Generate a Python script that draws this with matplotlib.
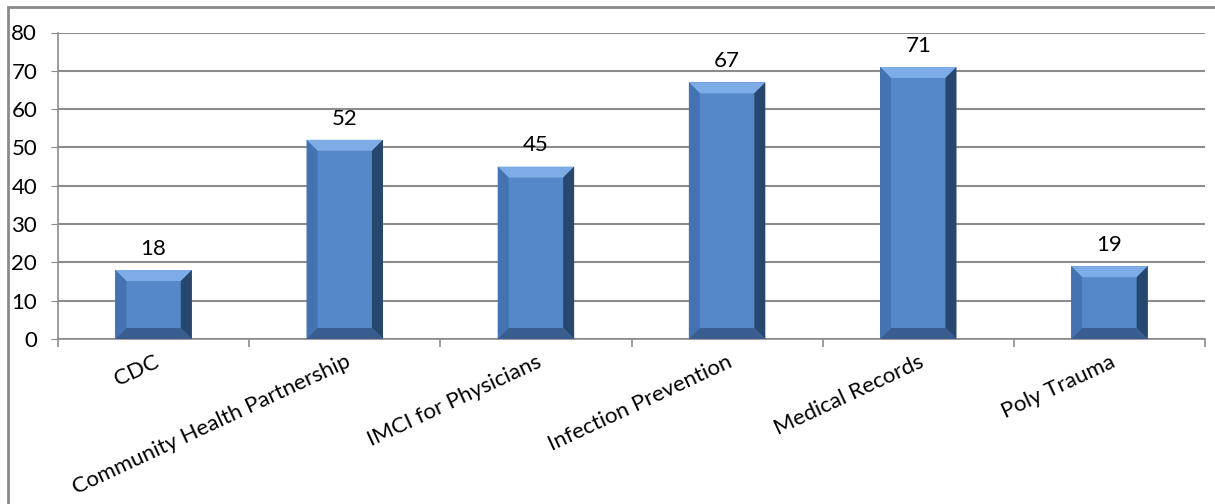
import numpy as np
import matplotlib.pyplot as plt
from matplotlib.patches import Polygon, Rectangle

plt.rcParams['font.family'] = ['Lato', 'DejaVu Sans']

courses = ['CDC', 'Community Health Partnership', 'IMCI for Physicians',
           'Infection Prevention', 'Medical Records', 'Poly Trauma']
trainees = [18, 52, 45, 67, 71, 19]

face = '#5588c8'
grid_c = '#8c8c8c'

fig = plt.figure(figsize=(12.15, 5.04), dpi=100)
ax = fig.add_axes([58 / 1215, 1 - 339 / 504, (1205 - 58) / 1215, (339 - 32.5) / 504])

x = np.arange(len(courses))
bars = ax.bar(x, trainees, width=0.4, color=face, zorder=3, linewidth=0)

ax.set_xlim(-0.5, len(courses) - 0.5)
ax.set_ylim(0, 80)

# bevel edges on each bar, sized in pixels
px_x = 1 / 191.2
px_y = 80 / 306.5
bev = 11
for b in bars:
    x0, w, h = b.get_x(), b.get_width(), b.get_height()
    x1 = x0 + w
    dx, dy = bev * px_x, bev * px_y
    sides = [
        ([(x0, h), (x1, h), (x1 - dx, h - dy), (x0 + dx, h - dy)], '#7eace6'),
        ([(x0, 0), (x0, h), (x0 + dx, h - dy), (x0 + dx, dy)], '#4373b2'),
        ([(x1, 0), (x1, h), (x1 - dx, h - dy), (x1 - dx, dy)], '#27476f'),
        ([(x0, 0), (x1, 0), (x1 - dx, dy), (x0 + dx, dy)], '#395d8e'),
    ]
    for pts, c in sides:
        ax.add_patch(Polygon(pts, closed=True, color=c, lw=0, zorder=4))
    ax.annotate(str(int(h)), (b.get_x() + w / 2, h), xytext=(0, 8),
                textcoords='offset points', ha='center', va='bottom',
                fontsize=16, color='black')

ax.set_yticks(range(0, 81, 10))
ax.yaxis.grid(True, color=grid_c, linewidth=1.5, zorder=0)
ax.tick_params(axis='y', length=5, color=grid_c, labelsize=16, pad=10)

ax.set_xticks(x)
ax.set_xticklabels(courses, rotation=25, ha='right', va='top',
                   rotation_mode='anchor', fontsize=16)
ax.tick_params(axis='x', which='major', length=0, pad=9)
ax.set_xticks(np.arange(-0.5, len(courses)), minor=True)
ax.tick_params(axis='x', which='minor', length=6, color=grid_c, width=1.2)

for s in ['top', 'right']:
    ax.spines[s].set_visible(False)
for s in ['left', 'bottom']:
    ax.spines[s].set_color(grid_c)
    ax.spines[s].set_linewidth(1.2)

# chart frame
fig.patches.append(Rectangle((8 / 1215, -0.1), 1.2, 1.1 - 7 / 504,
                             transform=fig.transFigure, fill=False,
                             edgecolor='#8a8a8a', linewidth=2, zorder=0))

fig.savefig('out.png', dpi=100)
